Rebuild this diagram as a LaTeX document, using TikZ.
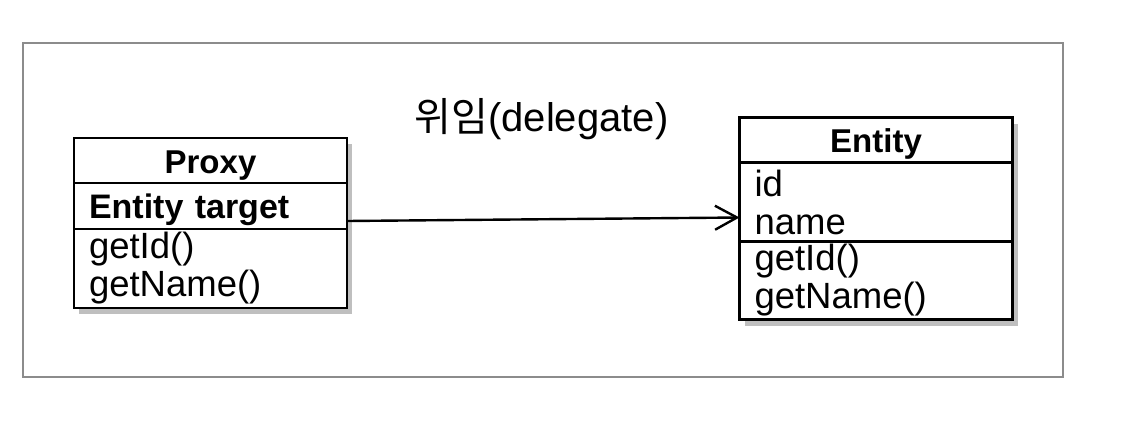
\documentclass[tikz,border=0pt]{standalone}
\usepackage{fontspec}
\setmainfont{Liberation Sans}
\newfontfamily\kofont{Noto Sans CJK KR}
\usepackage{tikz}
\usetikzlibrary{positioning, backgrounds, fit, shadows, arrows.meta}
\definecolor{Frame}{RGB}{140,140,140}
\tikzset{
	classhead/.style={draw, fill=white, line width=2.3pt, outer sep=0pt, inner sep=0pt, minimum width=273pt, minimum height=45pt, text height=28pt, text depth=3pt, font=\fontsize{33}{38}\selectfont\bfseries},
	classrow/.style={draw, fill=white, line width=2.3pt, outer sep=0pt, inner xsep=15pt, inner ysep=0pt, text width=243pt, align=left, font=\fontsize{36.5}{38}\selectfont},
	classfield/.style={classrow, text height=28pt, text depth=4pt, font=\fontsize{34}{38}\selectfont\bfseries},
	classshadow/.style={fill=white, inner sep=0pt, outer sep=0pt, drop shadow={shadow xshift=5pt, shadow yshift=-6pt, opacity=0.5}},
}

\begin{document}
\begin{tikzpicture}[x=1pt, y=-1pt]
\useasboundingbox (0,0) rectangle (1124,442);

\draw[Frame, line width=1.5pt] (23,43) rectangle (1063,377);

\node[anchor=base, font=\fontsize{40}{46}\selectfont] (delegate) at (541.5,131) {{\kofont 위임}(delegate)};

\node[classhead] (proxy) at (210.5,160.5) {Proxy};
\node[classfield, minimum height=46pt, below=0pt of proxy] (proxyfield) {Entity target};
\node[classrow, minimum height=79pt, below=0pt of proxyfield] (proxyops) {getId()\\getName()};

\node[classhead] (entity) at (876,140) {Entity};
\node[classrow, minimum height=79pt, below=0pt of entity] (entityfields) {id\\name};
\node[classrow, minimum height=78pt, below=0pt of entityfields] (entityops) {getId()\\getName()};

\begin{scope}[on background layer]
\node[classshadow, fit=(proxy)(proxyops)] (proxyback) {};
\node[classshadow, fit=(entity)(entityops)] (entityback) {};
\end{scope}

\draw[-{Straight Barb[length=22pt,width=24pt]}, line width=2.4pt] ([yshift=-15pt]proxyfield.east) -- ([yshift=-15.5pt]entityfields.west);
\end{tikzpicture}
\end{document}
